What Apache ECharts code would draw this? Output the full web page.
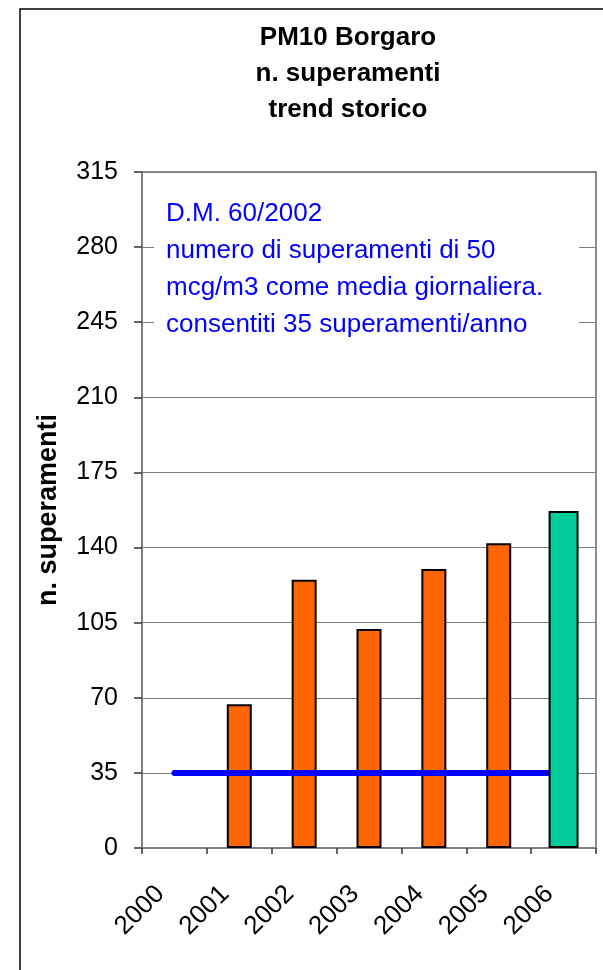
<!DOCTYPE html>
<html><head><meta charset="utf-8">
<script src="https://cdn.jsdelivr.net/npm/echarts@6/dist/echarts.min.js"></script>
<style>html,body{margin:0;padding:0;background:#fff}#c{width:603px;height:970px}</style>
</head><body><div id="c"></div>
<script>
const years = ['2000','2001','2002','2003','2004','2005','2006'];
const superamenti = [null, 67, 125, 102, 130, 142, null];
const superamenti2006 = [null, null, null, null, null, null, 157];
const limite = [35, 35, 35, 35, 35, 35, 35];
const yMin = 0, yMax = 315, yStep = 35;
const titleLines = ['PM10 Borgaro', 'n. superamenti', 'trend storico'];
const noteLines = ['D.M. 60/2002', 'numero di superamenti di 50', 'mcg/m3 come media giornaliera.', 'consentiti 35 superamenti/anno'];
const yName = 'n. superamenti';

const FF = '"Liberation Sans", Arial, sans-serif';
const chart = echarts.init(document.getElementById('c'), null, {renderer: 'canvas'});
chart.setOption({
  animation: false,
  backgroundColor: '#fff',
  grid: {left: 142, top: 172, width: 454, height: 676, show: true, borderColor: '#8c8c8c', borderWidth: 2, backgroundColor: 'transparent'},
  xAxis: [{
    type: 'category', data: years, boundaryGap: true,
    axisLine: {lineStyle: {color: '#808080', width: 2}},
    axisTick: {show: true, interval: 0, length: 6, lineStyle: {color: '#333', width: 1.5}},
    axisLabel: {interval: 0, rotate: 45, fontSize: 26, fontFamily: FF, color: '#000', margin: 56,
                verticalAlign: 'bottom', lineHeight: 40},
    splitLine: {show: false}
  }, {
    type: 'category', data: years, boundaryGap: true, show: false
  }],
  yAxis: {
    type: 'value', min: yMin, max: yMax, interval: yStep,
    axisLine: {show: true, lineStyle: {color: '#808080', width: 2}},
    axisTick: {show: true, length: 8, lineStyle: {color: '#333', width: 1.5}},
    axisLabel: {fontSize: 25, fontFamily: FF, color: '#000', margin: 24},
    splitLine: {show: true, lineStyle: {color: '#7a7a7a', width: 1.2}}
  },
  series: [{
    type: 'bar', xAxisIndex: 0, data: superamenti, barWidth: 25, z: 2,
    itemStyle: {color: '#FF6600', borderColor: '#000', borderWidth: 2}
  }, {
    type: 'line', xAxisIndex: 0, data: limite, symbol: 'none', z: 3,
    lineStyle: {color: '#0000FF', width: 6, cap: 'round'}
  }, {
    type: 'bar', xAxisIndex: 1, data: superamenti2006, barWidth: 30, z: 4,
    itemStyle: {color: '#00CC99', borderColor: '#000', borderWidth: 2}
  }],
  graphic: [
    {type: 'rect', z: 100, shape: {x: 20, y: 9, width: 700, height: 1000}, style: {fill: 'none', stroke: '#000', lineWidth: 1.5}},
    {type: 'rect', z: 100, shape: {x: 154, y: 186, width: 425, height: 158}, style: {fill: '#fff', stroke: 'none'}},
    {type: 'text', z: 101, x: 166, y: 195, style: {text: noteLines.join('\n'), font: '26px ' + FF, fill: '#0000FF', lineHeight: 37, align: 'left', verticalAlign: 'top'}},
    {type: 'text', z: 101, x: 348, y: 20, style: {text: titleLines.join('\n'), font: 'bold 26px ' + FF, fill: '#000', lineHeight: 36, align: 'center', verticalAlign: 'top'}},
    {type: 'text', z: 101, x: 49, y: 510, rotation: Math.PI / 2, style: {text: yName, font: 'bold 27px ' + FF, fill: '#000', align: 'center', verticalAlign: 'middle'}}
  ]
});
</script></body></html>
